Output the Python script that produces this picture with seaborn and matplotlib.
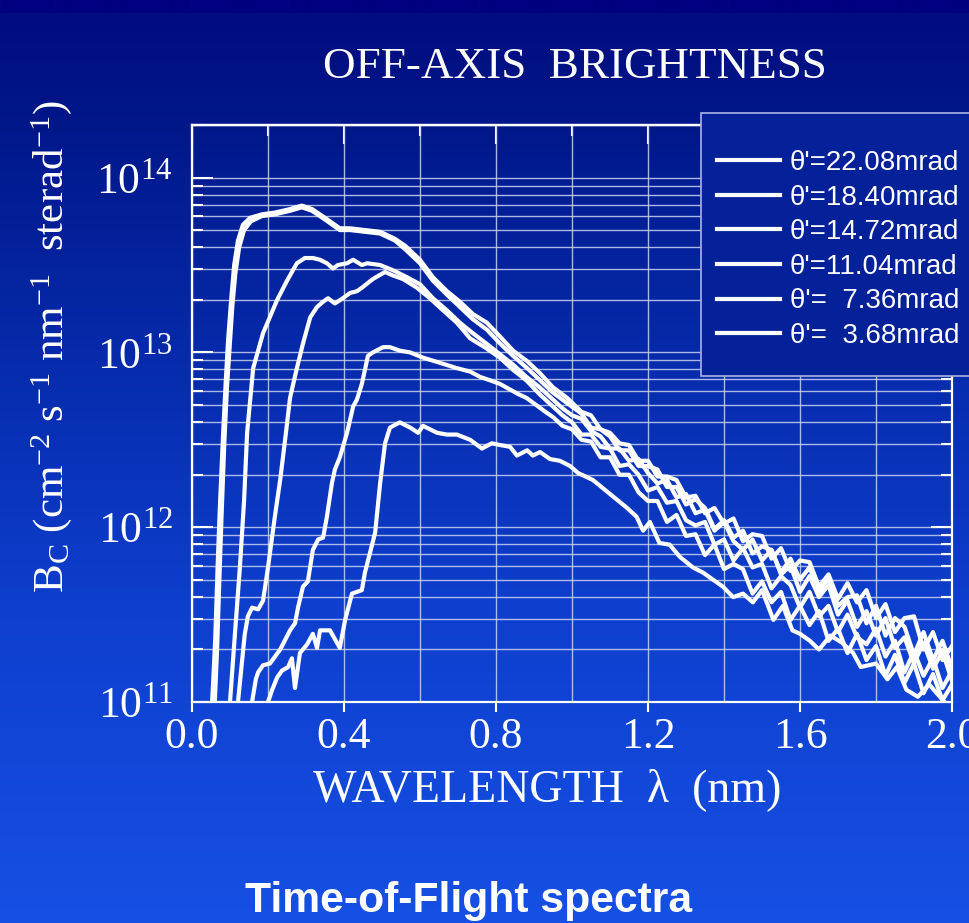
import numpy as np
import pandas as pd
import matplotlib
matplotlib.use("Agg")
import matplotlib.pyplot as plt
import seaborn as sns
from matplotlib.ticker import LogLocator, MultipleLocator, FormatStrFormatter, LogFormatterMathtext, NullFormatter
from matplotlib.lines import Line2D
from matplotlib.patches import Rectangle

# ---------------- data (wavelength in nm, log10 of brightness) ----------------
angle_labels = ["θ'=22.08mrad", "θ'=18.40mrad", "θ'=14.72mrad",
                "θ'=11.04mrad", "θ'=  7.36mrad", "θ'=  3.68mrad"]

tail_x = [1.025, 1.050, 1.075, 1.100, 1.125, 1.150, 1.175, 1.200, 1.225, 1.250,
          1.275, 1.300, 1.325, 1.350, 1.375, 1.400, 1.425, 1.450, 1.475, 1.500,
          1.525, 1.550, 1.575, 1.600, 1.625, 1.650, 1.675, 1.700, 1.725, 1.750,
          1.775, 1.800, 1.825, 1.850, 1.875, 1.900, 1.925, 1.950, 1.975, 2.000]

# theta' = 3.68 mrad
a1_x = [0.053, 0.061, 0.068, 0.074, 0.082, 0.089, 0.095, 0.103, 0.111, 0.121,
        0.134, 0.153, 0.184, 0.218, 0.258, 0.289, 0.316, 0.350, 0.389, 0.416,
        0.455, 0.495, 0.534, 0.561, 0.600, 0.634, 0.671, 0.705, 0.739, 0.776,
        0.811, 0.845, 0.882, 0.916, 0.950, 0.987]
a1_y = [11.00, 11.35, 11.81, 12.15, 12.54, 12.84, 13.07, 13.30, 13.50, 13.64,
        13.73, 13.77, 13.79, 13.80, 13.82, 13.84, 13.82, 13.77, 13.71, 13.71,
        13.70, 13.69, 13.65, 13.61, 13.53, 13.43, 13.35, 13.29, 13.22, 13.17,
        13.09, 13.01, 12.95, 12.88, 12.80, 12.74]
a1_tail = [12.66, 12.64, 12.56, 12.54, 12.48, 12.47, 12.38, 12.38, 12.29, 12.29,
           12.27, 12.17, 12.18, 12.08, 12.11, 12.02, 12.05, 11.92, 11.96, 11.95,
           11.82, 11.88, 11.75, 11.81, 11.80, 11.66, 11.73, 11.59, 11.68, 11.57,
           11.64, 11.48, 11.56, 11.40, 11.48, 11.49, 11.30, 11.40, 11.24, 11.32]

# theta' = 7.36 mrad
a2_x = [0.060, 0.066, 0.072, 0.078, 0.085, 0.092, 0.099, 0.106, 0.114, 0.124,
        0.137, 0.155, 0.184, 0.218, 0.258, 0.289, 0.316, 0.350, 0.389, 0.416,
        0.455, 0.495, 0.534, 0.561, 0.600, 0.634, 0.671, 0.705, 0.739, 0.776,
        0.811, 0.845, 0.882, 0.916, 0.950, 0.987]
a2_y = [11.00, 11.30, 11.70, 12.08, 12.48, 12.80, 13.03, 13.26, 13.45, 13.60,
        13.70, 13.75, 13.78, 13.79, 13.81, 13.83, 13.81, 13.76, 13.70, 13.70,
        13.69, 13.68, 13.64, 13.59, 13.51, 13.41, 13.33, 13.26, 13.19, 13.13,
        13.05, 12.98, 12.91, 12.84, 12.77, 12.71]
a2_tail = [12.65, 12.57, 12.56, 12.52, 12.44, 12.44, 12.35, 12.35, 12.33, 12.23,
           12.23, 12.13, 12.16, 12.11, 11.99, 12.04, 11.94, 11.98, 11.85, 11.89,
           11.87, 11.74, 11.82, 11.70, 11.77, 11.63, 11.71, 11.55, 11.60, 11.61,
           11.45, 11.55, 11.38, 11.48, 11.43, 11.27, 11.40, 11.24, 11.35, 11.19]

# theta' = 11.04 mrad
b_x = [0.100, 0.113, 0.126, 0.137, 0.145, 0.161, 0.187, 0.224, 0.250, 0.276,
       0.297, 0.318, 0.337, 0.355, 0.371, 0.384, 0.408, 0.424, 0.447, 0.461,
       0.495, 0.529, 0.566, 0.600, 0.634, 0.671, 0.705, 0.739, 0.775, 0.810,
       0.845, 0.880, 0.915, 0.950, 0.975, 1.000]
b_y = [11.00, 11.39, 11.77, 12.15, 12.54, 12.91, 13.11, 13.30, 13.41, 13.51,
       13.54, 13.54, 13.53, 13.51, 13.48, 13.50, 13.51, 13.53, 13.50, 13.51,
       13.50, 13.47, 13.43, 13.39, 13.31, 13.24, 13.17, 13.11, 13.05, 12.99,
       12.93, 12.86, 12.80, 12.73, 12.68, 12.64]
b_tail = [12.62, 12.55, 12.52, 12.45, 12.45, 12.38, 12.39, 12.31, 12.25, 12.27,
          12.17, 12.19, 12.08, 12.10, 11.98, 12.03, 11.92, 11.87, 11.93, 11.81,
          11.87, 11.73, 11.78, 11.63, 11.72, 11.60, 11.67, 11.50, 11.58, 11.43,
          11.52, 11.38, 11.48, 11.31, 11.37, 11.22, 11.34, 11.19, 11.29, 11.12]

# theta' = 14.72 mrad
c_x = [0.121, 0.132, 0.139, 0.147, 0.158, 0.174, 0.187, 0.200, 0.218, 0.232,
       0.245, 0.258, 0.276, 0.292, 0.311, 0.329, 0.345, 0.358, 0.376, 0.397,
       0.416, 0.434, 0.447, 0.476, 0.508, 0.529, 0.555, 0.592, 0.626, 0.661,
       0.697, 0.732, 0.770, 0.810, 0.845, 0.880, 0.915, 0.950, 0.975, 1.000]
c_y = [11.00, 11.24, 11.39, 11.49, 11.54, 11.53, 11.58, 11.77, 12.06, 12.27,
       12.50, 12.74, 12.91, 13.05, 13.20, 13.26, 13.29, 13.31, 13.28, 13.31,
       13.34, 13.35, 13.37, 13.42, 13.46, 13.44, 13.42, 13.37, 13.31, 13.24,
       13.17, 13.08, 13.03, 12.97, 12.90, 12.84, 12.76, 12.69, 12.64, 12.60]
c_tail = [12.53, 12.53, 12.46, 12.45, 12.35, 12.36, 12.30, 12.21, 12.23, 12.14,
          12.15, 12.04, 12.01, 12.03, 11.90, 11.93, 11.81, 11.88, 11.77, 11.79,
          11.65, 11.72, 11.67, 11.54, 11.63, 11.49, 11.55, 11.40, 11.50, 11.37,
          11.33, 11.42, 11.26, 11.35, 11.17, 11.29, 11.15, 11.25, 11.08, 11.18]

# theta' = 18.40 mrad
d_x = [0.158, 0.168, 0.174, 0.187, 0.205, 0.232, 0.258, 0.271, 0.279, 0.292,
       0.305, 0.318, 0.332, 0.345, 0.355, 0.368, 0.376, 0.389, 0.408, 0.424,
       0.434, 0.447, 0.463, 0.476, 0.503, 0.521, 0.547, 0.574, 0.608, 0.653,
       0.697, 0.732, 0.758, 0.785, 0.810, 0.835, 0.860, 0.880, 0.905, 0.930,
       0.950, 0.975, 1.000]
d_y = [11.00, 11.13, 11.17, 11.21, 11.22, 11.30, 11.41, 11.45, 11.54, 11.66,
       11.69, 11.87, 11.93, 11.94, 12.06, 12.25, 12.33, 12.40, 12.54, 12.69,
       12.73, 12.82, 12.98, 13.00, 13.03, 13.03, 13.01, 13.00, 12.97, 12.94,
       12.91, 12.89, 12.86, 12.84, 12.82, 12.79, 12.76, 12.74, 12.70, 12.66,
       12.63, 12.58, 12.56]
d_tail = [12.50, 12.49, 12.40, 12.40, 12.30, 12.30, 12.20, 12.15, 12.15, 12.03,
          12.07, 11.95, 11.96, 11.84, 11.90, 11.76, 11.79, 11.76, 11.62, 11.69,
          11.57, 11.63, 11.47, 11.55, 11.44, 11.52, 11.35, 11.42, 11.28, 11.39,
          11.24, 11.32, 11.15, 11.27, 11.11, 11.22, 11.05, 11.16, 11.01, 11.10]

# theta' = 22.08 mrad
e_x = [0.200, 0.211, 0.224, 0.237, 0.253, 0.263, 0.271, 0.284, 0.303, 0.318,
       0.329, 0.337, 0.363, 0.389, 0.403, 0.421, 0.447, 0.455, 0.468, 0.482,
       0.495, 0.508, 0.521, 0.547, 0.574, 0.595, 0.608, 0.645, 0.671, 0.697,
       0.732, 0.763, 0.789, 0.811, 0.837, 0.855, 0.882, 0.897, 0.916, 0.942,
       0.968, 0.995, 1.016, 1.055, 1.100, 1.145, 1.170, 1.187, 1.205, 1.230,
       1.257, 1.284, 1.318, 1.345, 1.371, 1.397, 1.424, 1.450, 1.476, 1.500,
       1.530, 1.555, 1.580, 1.600, 1.626, 1.650, 1.680, 1.710, 1.740, 1.760,
       1.800, 1.830, 1.855, 1.880, 1.910, 1.940, 1.980]
e_y = [11.00, 11.07, 11.14, 11.18, 11.20, 11.25, 11.08, 11.28, 11.33, 11.39,
       11.31, 11.41, 11.41, 11.31, 11.47, 11.62, 11.64, 11.74, 11.85, 11.97,
       12.25, 12.48, 12.57, 12.60, 12.57, 12.54, 12.58, 12.54, 12.53, 12.53,
       12.50, 12.45, 12.48, 12.47, 12.46, 12.41, 12.44, 12.41, 12.43, 12.39,
       12.38, 12.35, 12.31, 12.27, 12.19, 12.11, 12.06, 11.98, 12.03, 11.91,
       11.90, 11.83, 11.77, 11.74, 11.70, 11.66, 11.60, 11.62, 11.57, 11.64,
       11.47, 11.55, 11.41, 11.39, 11.35, 11.30, 11.38, 11.34, 11.28, 11.20,
       11.22, 11.13, 11.20, 11.07, 11.03, 11.10, 11.00]

# ---------------- assemble ----------------
curves = [
    (angle_labels[5], a1_x + tail_x, a1_y + a1_tail),
    (angle_labels[4], a2_x + tail_x, a2_y + a2_tail),
    (angle_labels[3], b_x + tail_x, b_y + b_tail),
    (angle_labels[2], c_x + tail_x, c_y + c_tail),
    (angle_labels[1], d_x + tail_x, d_y + d_tail),
    (angle_labels[0], e_x, e_y),
]
frames = []
for lab, xs, ys in curves:
    assert len(xs) == len(ys), (lab, len(xs), len(ys))
    frames.append(pd.DataFrame({"wavelength": xs,
                                "bc": np.power(10.0, np.array(ys)),
                                "angle": lab}))
df = pd.concat(frames, ignore_index=True)

# ---------------- style ----------------
W, H = 970, 923
plt.rcParams["font.family"] = ["Liberation Serif", "DejaVu Serif"]
plt.rcParams["mathtext.fontset"] = "custom"
plt.rcParams["mathtext.rm"] = "Liberation Serif"
plt.rcParams["mathtext.it"] = "Liberation Serif:italic"
plt.rcParams["mathtext.bf"] = "Liberation Serif:bold"

fig = plt.figure(figsize=(W / 100, H / 100), dpi=100)

# background gradient
stops_y = [0, 12, 13, 110, 350, 600, 923]
stops_c = np.array([[0, 0, 128], [0, 0, 128], [0, 12, 128], [0, 22, 136],
                    [6, 42, 170], [14, 62, 205], [22, 80, 228]]) / 255.0
yy = np.arange(H)
grad = np.stack([np.interp(yy, stops_y, stops_c[:, k]) for k in range(3)], axis=1)
bg = fig.add_axes([0, 0, 1, 1], zorder=0)
bg.imshow(grad[:, None, :], aspect="auto", extent=[0, 1, 0, 1], interpolation="bilinear")
bg.set_axis_off()

x0, x1 = 192, 952
y0, y1 = 125, 702
ax = fig.add_axes([x0 / W, 1 - y1 / H, (x1 - x0) / W, (y1 - y0) / H], zorder=1)
ax.set_facecolor("none")

for lab in angle_labels:
    sub = df[df["angle"] == lab]
    sns.lineplot(data=sub, x="wavelength", y="bc", ax=ax, color="white",
                 linewidth=3.0, sort=False, estimator=None, legend=False, zorder=3)

ax.set_yscale("log")
ax.set_xlim(0, 2.0)
ax.set_ylim(1e11, 2e14)

white = "white"
gridc = "#c9d2f2"
ax.xaxis.set_major_locator(MultipleLocator(0.4))
ax.xaxis.set_minor_locator(MultipleLocator(0.2))
ax.xaxis.set_major_formatter(FormatStrFormatter("%.1f"))
ax.yaxis.set_major_locator(LogLocator(base=10, numticks=10))
ax.yaxis.set_minor_locator(LogLocator(base=10, subs=np.arange(2, 10), numticks=20))
ax.yaxis.set_major_formatter(LogFormatterMathtext())
ax.yaxis.set_minor_formatter(NullFormatter())

ax.grid(True, which="both", axis="both", color=gridc, linewidth=1.0, alpha=0.85, zorder=1)
ax.set_axisbelow(True)

for s in ax.spines.values():
    s.set_color(white)
    s.set_linewidth(1.6)

ax.tick_params(axis="x", which="major", direction="out", length=7, width=1.5,
               colors=white, labelsize=31.5, pad=4, top=False)
ax.tick_params(axis="x", which="minor", length=0, top=False)
ax.tick_params(axis="y", which="major", direction="in", length=15, width=1.5,
               colors=white, labelsize=31.5, pad=14, right=True)
ax.tick_params(axis="y", which="minor", direction="in", length=8, width=1.5,
               colors=white, right=True)

top = ax.secondary_xaxis("top")
top.xaxis.set_major_locator(MultipleLocator(0.4))
top.xaxis.set_minor_locator(MultipleLocator(0.2))
top.tick_params(which="major", direction="in", length=14, width=1.5, colors=white, labeltop=False)
top.tick_params(which="minor", direction="in", length=8, width=1.5, colors=white)
top.spines["top"].set_color(white)
top.spines["top"].set_linewidth(1.6)

ax.set_xlabel("WAVELENGTH  λ  (nm)", fontsize=33, color=white)
ax.xaxis.set_label_coords(0.468, -0.115)
ax.set_ylabel(r"B$_{\mathrm{C}}$ (cm$^{-2}$ s$^{-1}$ nm$^{-1}$  sterad$^{-1}$)",
              fontsize=31, color=white)
ax.yaxis.set_label_coords(-0.155, 0.615)

# legend box
box = Rectangle((701 / W, 1 - 376 / H), 300 / W, (376 - 113) / H,
                transform=fig.transFigure, facecolor="#04219a", edgecolor="#aab4e0",
                linewidth=1.2, zorder=4, clip_on=False)
ax.add_patch(box)
handles = [Line2D([], [], color=white, linewidth=3.0) for _ in angle_labels]
leg = ax.legend(handles, angle_labels, loc="upper left",
                bbox_to_anchor=(717 / W, 1 - 150 / H), bbox_transform=fig.transFigure,
                frameon=False, borderpad=0, borderaxespad=0,
                handlelength=2.27, handletextpad=0.36, labelspacing=0.31,
                prop={"family": ["Liberation Sans"], "size": 20}, labelcolor=white)
leg.set_zorder(5)

fig.text(575 / W, 1 - 78 / H, "OFF-AXIS  BRIGHTNESS", ha="center", va="baseline",
         fontsize=32.5, color=white)
fig.text(245 / W, 1 - 912 / H, "Time-of-Flight spectra", ha="left", va="baseline",
         fontsize=30.7, fontweight="bold", family=["Liberation Sans"], color=white)

fig.savefig("out.png", dpi=100)
